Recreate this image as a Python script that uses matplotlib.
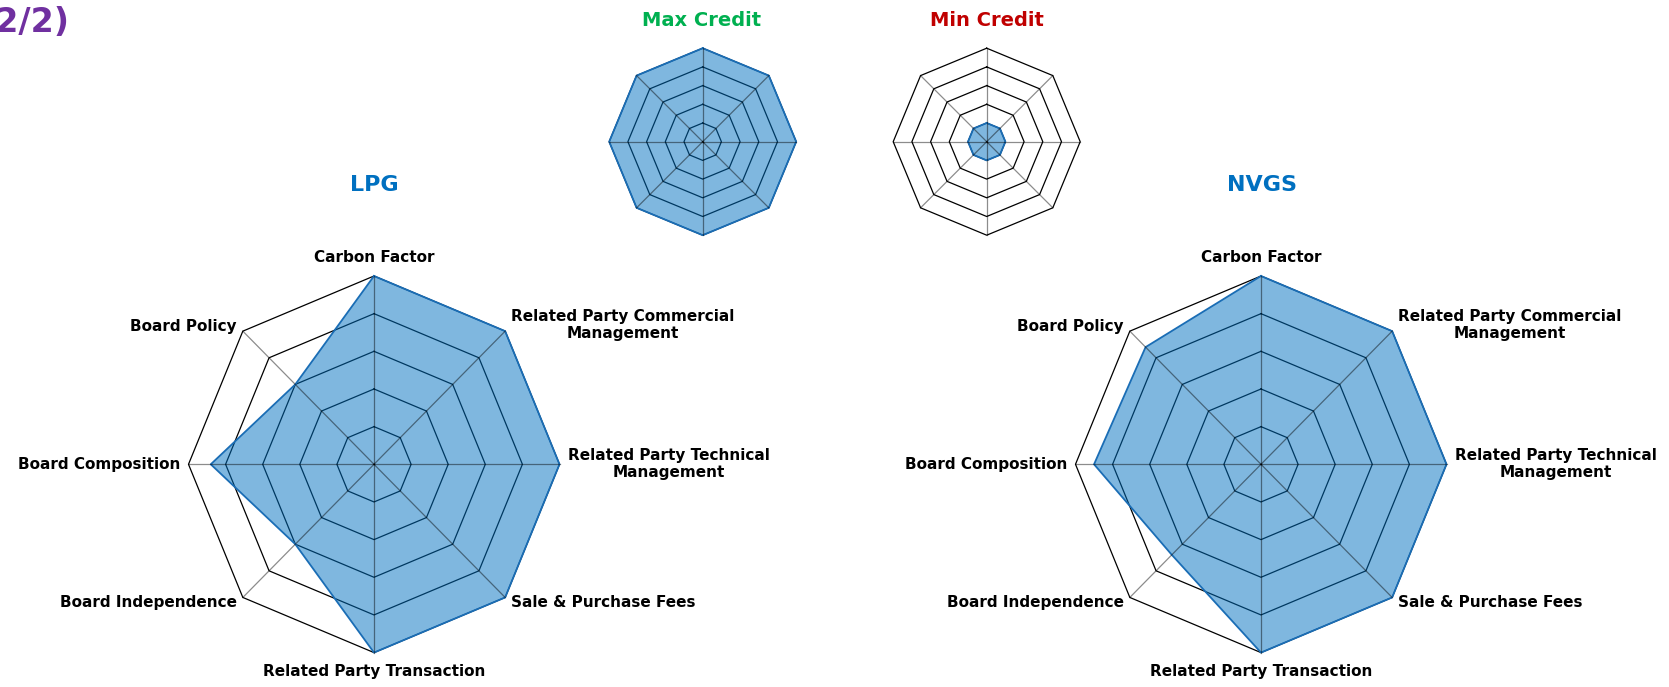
import numpy as np
import matplotlib
matplotlib.use('Agg')
import matplotlib.pyplot as plt

plt.rcParams.update({
    'font.family': 'DejaVu Sans',
    'font.weight': 'bold',
})

categories = ['Carbon Factor', 'Related Party Commercial\nManagement',
              'Related Party Technical\nManagement', 'Sale & Purchase Fees',
              'Related Party Transaction', 'Board Independence',
              'Board Composition', 'Board Policy']
lpg_scores = [5, 5, 5, 5, 5, 3, 4.4, 3]
nvgs_scores = [5, 5, 5, 5, 5, 3.4, 4.5, 4.4]
max_credit = [5, 5, 5, 5, 5, 5, 5, 5]
min_credit = [1, 1, 1, 1, 1, 1, 1, 1]
levels = [1, 2, 3, 4, 5]

W, H = 1669, 687
fig = plt.figure(figsize=(W / 100, H / 100), dpi=100)

n = len(categories)
angles = np.arange(n) * 2 * np.pi / n
closed = np.append(angles, angles[0])

# label offsets in pixels, one per spoke (top, then clockwise)
label_off = [(0, 18), (6, 6), (8, 0), (6, -5), (0, -18.5), (-6, -5), (-8.5, 0), (-6, 5)]
label_ha = ['center', 'left', 'left', 'left', 'center', 'right', 'right', 'right']


def radar(cx, cy, rx, ry, values, labels=True):
    ax = fig.add_axes([(cx - rx) / W, (H - cy - ry) / H, 2 * rx / W, 2 * ry / H],
                      projection='polar')
    ax.set_theta_offset(np.pi / 2)
    ax.set_theta_direction(-1)
    ax.set_ylim(0, 5)
    ax.set_aspect('auto')
    ax.grid(False)
    ax.set_xticks([])
    ax.set_yticks([])
    ax.spines['polar'].set_visible(False)
    ax.patch.set_visible(False)

    for lv in levels:
        ax.plot(closed, [lv] * (n + 1), color='black', lw=0.9, zorder=1, clip_on=False)

    vals = list(values) + [values[0]]
    ax.fill(closed, vals, color='#0070C0', alpha=0.5, lw=0, zorder=2, clip_on=False)
    ax.plot(closed, vals, color='#1a6db5', lw=1.3, zorder=3, clip_on=False)

    # spokes sit on top of the fill, semi transparent
    for a in angles:
        ax.plot([a, a], [0, 5], color='black', alpha=0.45, lw=0.9, zorder=4, clip_on=False)

    if labels:
        for a, lab, (dx, dy), ha in zip(angles, categories, label_off, label_ha):
            ax.annotate(lab, xy=(a, 5), xytext=(dx * 0.72, dy * 0.72),
                        textcoords='offset points', ha=ha, va='center',
                        multialignment='center', fontsize=11, fontweight='bold',
                        color='black', annotation_clip=False)
    return ax


radar(374, 464.3, 185.5, 188.3, lpg_scores)
radar(1261, 464.3, 185.5, 188.3, nvgs_scores)
radar(702.7, 141.7, 93.5, 93.5, max_credit, labels=False)
radar(986.7, 141.7, 93.5, 93.5, min_credit, labels=False)

fig.text(374.7 / W, 1 - 185 / H, 'LPG', ha='center', va='center',
         fontsize=16, fontweight='bold', color='#0070C0')
fig.text(1261.5 / W, 1 - 185 / H, 'NVGS', ha='center', va='center',
         fontsize=16, fontweight='bold', color='#0070C0')
fig.text(702 / W, 1 - 21 / H, 'Max Credit', ha='center', va='center',
         fontsize=14, fontweight='bold', color='#00B050')
fig.text(986.7 / W, 1 - 21 / H, 'Min Credit', ha='center', va='center',
         fontsize=14, fontweight='bold', color='#C00000')
# page title runs off the left edge in the source slide
fig.text(69 / W, 1 - 22 / H, '(2/2)', ha='right', va='center',
         fontsize=24, fontweight='bold', color='#7030A0')

plt.savefig('out.png', dpi=100, facecolor='white')
